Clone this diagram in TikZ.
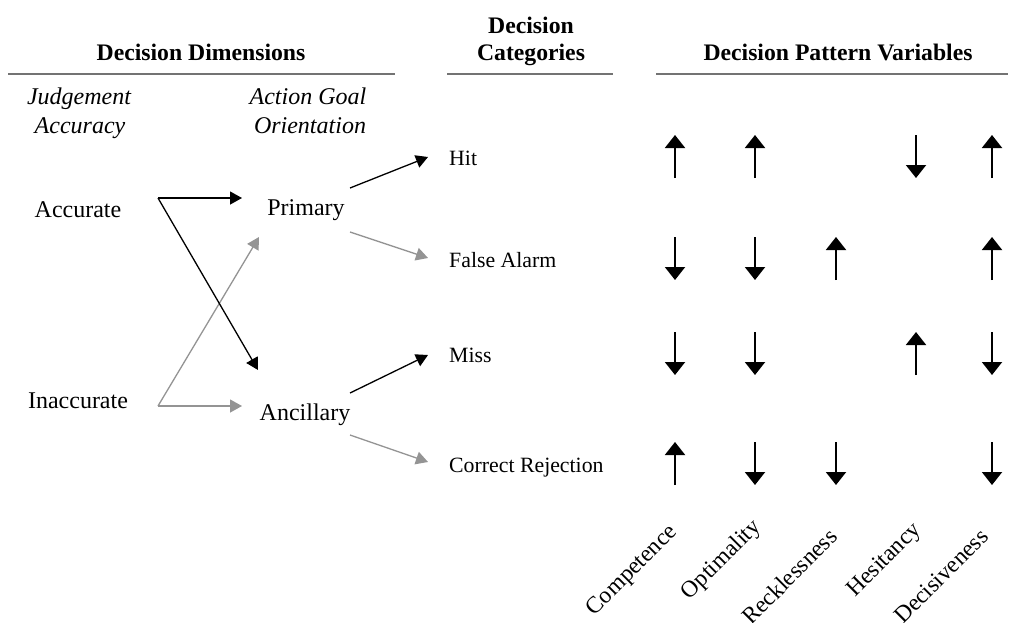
\documentclass[tikz,border=0pt]{standalone}
\usepackage{fontspec}
\setmainfont{Liberation Serif}
\usetikzlibrary{arrows.meta}

\begin{document}
\begin{tikzpicture}[x=1pt, y=-1pt,
    hdr/.style={font=\fontsize{23.7}{26}\selectfont\bfseries, anchor=base, inner sep=0pt},
    dimlbl/.style={font=\fontsize{24}{26}\selectfont\itshape, anchor=base, inner sep=0pt},
    lvl/.style={font=\fontsize{24}{26}\selectfont, anchor=base, inner sep=0pt},
    cat/.style={font=\fontsize{21.8}{24}\selectfont, anchor=base west, inner sep=0pt},
    pvar/.style={font=\fontsize{23.5}{26}\selectfont, anchor=base east, rotate=45, inner sep=0pt},
    rule/.style={draw=black!55, line width=1.2pt},
    blk/.style={-{Triangle[length=12pt, width=13pt]}, line width=1.3pt},
    gry/.style={blk, draw=black!42},
    vec/.style={-{Triangle[length=13pt, width=20pt]}, line width=2pt}]
    \useasboundingbox (0,0) rectangle (1009,622);

    % Headers and rules
    \node[hdr] (dimhdr) at (201,60) {Decision Dimensions};
    \node[hdr] (cathdr1) at (531,33) {Decision};
    \node[hdr] (cathdr2) at (531,60) {Categories};
    \node[hdr] (pathdr) at (838,60) {Decision Pattern Variables};
    \draw[rule] (8,74) -- (395,74);
    \draw[rule] (447,74) -- (613,74);
    \draw[rule] (656,74) -- (1008,74);

    % Dimension labels
    \node[dimlbl] (judg1) at (79,104) {Judgement};
    \node[dimlbl] (judg2) at (80,133) {Accuracy};
    \node[dimlbl] (goal1) at (308,104) {Action Goal};
    \node[dimlbl] (goal2) at (310,133) {Orientation};

    % Levels
    \node[lvl] (accurate) at (78,217) {Accurate};
    \node[lvl] (inaccurate) at (78,408) {Inaccurate};
    \node[lvl] (primary) at (306,215) {Primary};
    \node[lvl] (ancillary) at (305,420) {Ancillary};

    % Categories
    \node[cat] (hit) at (449,165) {Hit};
    \node[cat] (falsealarm) at (449,267) {False Alarm};
    \node[cat] (miss) at (449,362) {Miss};
    \node[cat] (correctrej) at (449,472) {Correct Rejection};

    % Connector ends
    \coordinate (accfork) at (158,198);
    \coordinate (inafork) at (158,406);
    \coordinate (priA) at (242,198);
    \coordinate (priB) at (259,237);
    \coordinate (ancA) at (258,370);
    \coordinate (ancB) at (242,406);
    \coordinate (priout1) at (350,188);
    \coordinate (priout2) at (350,232);
    \coordinate (ancout1) at (350,393);
    \coordinate (ancout2) at (350,435);
    \coordinate (hitin) at (428,157);
    \coordinate (fain) at (428,258);
    \coordinate (missin) at (428,355);
    \coordinate (crin) at (428,462);

    % Judgement -> goal orientation
    \draw[gry] (inafork) -- (priB);
    \draw[gry] (inafork) -- (ancB);
    \draw[blk] (accfork) -- (priA);
    \draw[blk] (accfork) -- (ancA);

    % Goal orientation -> categories
    \draw[blk] (priout1) -- (hitin);
    \draw[gry] (priout2) -- (fain);
    \draw[blk] (ancout1) -- (missin);
    \draw[gry] (ancout2) -- (crin);

    % Pattern arrows: Hit
    \draw[vec] (675,178) -- (675,135);
    \draw[vec] (755,178) -- (755,135);
    \draw[vec] (916,135) -- (916,178);
    \draw[vec] (992,178) -- (992,135);
    % False Alarm
    \draw[vec] (675,237) -- (675,280);
    \draw[vec] (755,237) -- (755,280);
    \draw[vec] (836,280) -- (836,237);
    \draw[vec] (992,280) -- (992,237);
    % Miss
    \draw[vec] (675,332) -- (675,375);
    \draw[vec] (755,332) -- (755,375);
    \draw[vec] (916,375) -- (916,332);
    \draw[vec] (992,332) -- (992,375);
    % Correct Rejection
    \draw[vec] (675,485) -- (675,442);
    \draw[vec] (755,442) -- (755,485);
    \draw[vec] (836,442) -- (836,485);
    \draw[vec] (992,442) -- (992,485);

    % Variable names
    \node[pvar] (competence) at (678,533) {Competence};
    \node[pvar] (optimality) at (762,528) {Optimality};
    \node[pvar] (recklessness) at (839,538) {Recklessness};
    \node[pvar] (hesitancy) at (922,531) {Hesitancy};
    \node[pvar] (decisiveness) at (990,538) {Decisiveness};
\end{tikzpicture}
\end{document}
